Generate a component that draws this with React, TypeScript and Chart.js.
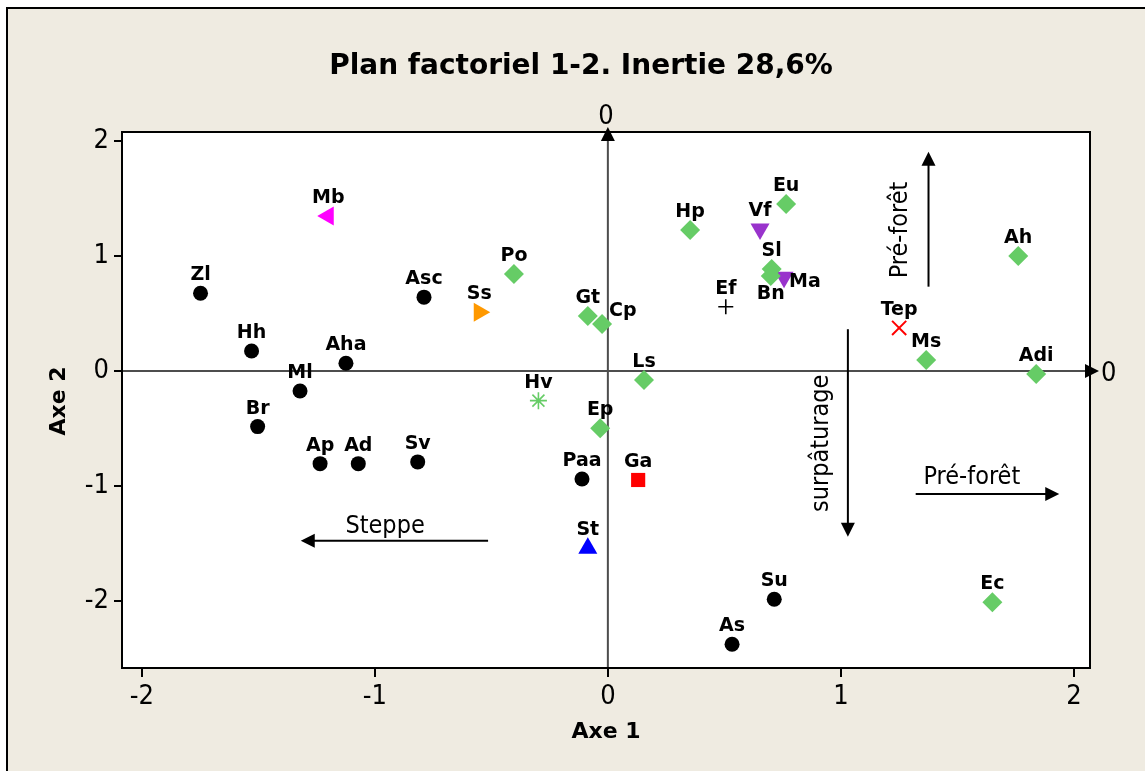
import React, { useEffect, useRef } from "react";
import { Chart, registerables } from "chart.js";

Chart.register(...registerables);

const W = 1145;
const H = 771;

// ---- data (Axe 1 / Axe 2 coordinates) ----
const names = ["Zl", "Hh", "Aha", "Ml", "Br", "Ap", "Ad", "Sv", "Asc", "Paa", "Su", "As",
  "Po", "Gt", "Cp", "Ls", "Ep", "Hp", "Eu", "Sl", "Bn", "Ms", "Adi", "Ah", "Ec",
  "Mb", "Ss", "Hv", "Ga", "St", "Vf", "Ma", "Ef", "Tep"];
const axe1 = [-1.748, -1.529, -1.124, -1.321, -1.503, -1.235, -1.071, -0.816, -0.789, -0.111, 0.714, 0.533,
  -0.403, -0.086, -0.025, 0.155, -0.033, 0.353, 0.765, 0.703, 0.699, 1.366, 1.838, 1.761, 1.650,
  -1.200, -0.552, -0.298, 0.130, -0.086, 0.653, 0.756, 0.506, 1.250];
const axe2 = [0.676, 0.174, 0.067, -0.174, -0.484, -0.806, -0.806, -0.791, 0.642, -0.939, -1.985, -2.377,
  0.843, 0.478, 0.409, -0.078, -0.498, 1.226, 1.452, 0.887, 0.826, 0.096, -0.026, 1.000, -2.011,
  1.348, 0.510, -0.258, -0.948, -1.542, 1.235, 0.815, 0.559, 0.374];
const groups = ["G1", "G1", "G1", "G1", "G1", "G1", "G1", "G1", "G1", "G1", "G1", "G1",
  "G2", "G2", "G2", "G2", "G2", "G2", "G2", "G2", "G2", "G2", "G2", "G2", "G2",
  "G3", "G4", "G5", "G6", "G7", "G8", "G8", "G9", "G10"];

const xTicks = [-2, -1, 0, 1, 2];
const yTicks = [-2, -1, 0, 1, 2];
const xMin = -2.085, xMax = 2.069;
const yMin = -2.583, yMax = 2.078;

const titleText = "Plan factoriel 1-2. Inertie 28,6%";
const xTitle = "Axe 1";
const yTitle = "Axe 2";

// annotation arrows (data units)
const noteTexts = ["Steppe", "surpâturage", "Pré-forêt", "Pré-forêt"];
const noteX = [-0.956, 0.945, 1.562, 1.284];
const noteY = [-1.411, -0.629, -0.985, 1.226];
const noteRot = [0, -90, 0, -90];
const arrowX1 = [-0.514, 1.030, 1.321, 1.376];
const arrowY1 = [-1.476, 0.363, -1.070, 0.733];
const arrowX2 = [-1.318, 1.030, 1.937, 1.376];
const arrowY2 = [-1.476, -1.441, -1.070, 1.907];

// ---- styles ----
const BG = "#efebe1";
const GREEN = "#66cc66";
const REG = "'DejaVu Sans Condensed', 'DejaVu Sans', sans-serif";
const BOLD = "'DejaVu Sans', sans-serif";

const groupStyle: Record<string, any> = {
  G1: { pointStyle: "circle", radius: 7.5, bg: "#000000", border: "#000000", bw: 0 },
  G2: { pointStyle: "rectRot", radius: 10, bg: GREEN, border: GREEN, bw: 0 },
  G3: { pointStyle: "triangle", rotation: 270, radius: 11, bg: "#ff00ff", border: "#ff00ff", bw: 0 },
  G4: { pointStyle: "triangle", rotation: 90, radius: 11, bg: "#ff9900", border: "#ff9900", bw: 0 },
  G5: { pointStyle: "star", radius: 8.5, bg: GREEN, border: GREEN, bw: 1.6 },
  G6: { pointStyle: "rect", radius: 10, bg: "#ff0000", border: "#ff0000", bw: 0 },
  G7: { pointStyle: "triangle", radius: 11, bg: "#0000ff", border: "#0000ff", bw: 0 },
  G8: { pointStyle: "triangle", rotation: 180, radius: 11, bg: "#9933cc", border: "#9933cc", bw: 0 },
  G9: { pointStyle: "cross", radius: 7.5, bg: "#000000", border: "#000000", bw: 1.6 },
  G10: { pointStyle: "crossRot", radius: 10, bg: "#ff0000", border: "#ff0000", bw: 2 },
};

const labelPlacement: Record<string, [number, number, CanvasTextAlign]> = {
  Cp: [7, -13, "left"],
  Ma: [5, 5, "left"],
  Bn: [0, 18, "center"],
};
const defaultPlacement: [number, number, CanvasTextAlign] = [0, -18, "center"];

function arrowHead(ctx: CanvasRenderingContext2D, tx: number, ty: number, dx: number, dy: number, len: number, half: number) {
  const bx = tx - dx * len, by = ty - dy * len;
  const px = -dy, py = dx;
  ctx.beginPath();
  ctx.moveTo(tx, ty);
  ctx.lineTo(bx + px * half, by + py * half);
  ctx.lineTo(bx - px * half, by - py * half);
  ctx.closePath();
  ctx.fill();
}

const decoPlugin = {
  id: "deco",
  beforeDraw(chart: any) {
    const { ctx, chartArea: a } = chart;
    ctx.save();
    ctx.fillStyle = "#ffffff";
    ctx.fillRect(0, 0, W, H);
    ctx.fillStyle = BG;
    ctx.fillRect(7, 8, W - 7, H - 8);
    ctx.strokeStyle = "#000";
    ctx.lineWidth = 2;
    ctx.beginPath();
    ctx.moveTo(7, H);
    ctx.lineTo(7, 8);
    ctx.lineTo(W, 8);
    ctx.stroke();
    ctx.fillStyle = "#ffffff";
    ctx.fillRect(a.left, a.top, a.right - a.left, a.bottom - a.top);
    ctx.restore();
  },
  beforeDatasetsDraw(chart: any) {
    const { ctx, chartArea: a, scales } = chart;
    const xs = scales.x, ys = scales.y;
    const x0 = xs.getPixelForValue(0);
    const y0 = ys.getPixelForValue(0);
    ctx.save();
    ctx.strokeStyle = "#4d4d4d";
    ctx.lineWidth = 2;
    ctx.beginPath();
    ctx.moveTo(x0, a.bottom);
    ctx.lineTo(x0, a.top + 8);
    ctx.moveTo(a.left, y0);
    ctx.lineTo(a.right - 4, y0);
    ctx.stroke();
    ctx.fillStyle = "#000";
    arrowHead(ctx, x0, a.top - 5, 0, -1, 14, 7);
    arrowHead(ctx, a.right + 9, y0, 1, 0, 14, 7);
    ctx.strokeStyle = "#000";
    ctx.lineWidth = 2;
    for (let i = 0; i < noteTexts.length; i++) {
      const p1x = xs.getPixelForValue(arrowX1[i]);
      const p1y = ys.getPixelForValue(arrowY1[i]);
      const p2x = xs.getPixelForValue(arrowX2[i]);
      const p2y = ys.getPixelForValue(arrowY2[i]);
      const L = Math.hypot(p2x - p1x, p2y - p1y);
      const dx = (p2x - p1x) / L, dy = (p2y - p1y) / L;
      ctx.beginPath();
      ctx.moveTo(p1x, p1y);
      ctx.lineTo(p2x - dx * 10, p2y - dy * 10);
      ctx.stroke();
      arrowHead(ctx, p2x, p2y, dx, dy, 14, 7);
    }
    ctx.restore();
  },
  afterDatasetsDraw(chart: any) {
    const { ctx, chartArea: a, scales } = chart;
    const xs = scales.x, ys = scales.y;
    ctx.save();
    ctx.strokeStyle = "#000";
    ctx.lineWidth = 2;
    ctx.strokeRect(a.left, a.top, a.right - a.left, a.bottom - a.top);
    ctx.fillStyle = "#000";
    ctx.font = `bold 19px ${BOLD}`;
    ctx.textBaseline = "middle";
    for (let i = 0; i < names.length; i++) {
      const [dx, dy, align] = labelPlacement[names[i]] || defaultPlacement;
      ctx.textAlign = align;
      ctx.fillText(names[i], xs.getPixelForValue(axe1[i]) + dx, ys.getPixelForValue(axe2[i]) + dy);
    }
    ctx.font = `25px ${REG}`;
    ctx.textBaseline = "alphabetic";
    ctx.textAlign = "center";
    for (let i = 0; i < noteTexts.length; i++) {
      const px = xs.getPixelForValue(noteX[i]);
      const py = ys.getPixelForValue(noteY[i]);
      ctx.save();
      ctx.translate(px, py);
      ctx.rotate((noteRot[i] * Math.PI) / 180);
      ctx.fillText(noteTexts[i], 0, 0);
      ctx.restore();
    }
    const x0 = xs.getPixelForValue(0);
    const y0 = ys.getPixelForValue(0);
    ctx.font = `27px ${REG}`;
    ctx.textAlign = "center";
    ctx.fillText("0", x0 - 2, a.top - 8);
    ctx.textAlign = "left";
    ctx.fillText("0", a.right + 11, y0 + 10);
    ctx.font = `bold 28px ${BOLD}`;
    ctx.textAlign = "center";
    ctx.fillText(titleText, 581, 74);
    ctx.font = `bold 22px ${BOLD}`;
    ctx.fillText(xTitle, (a.left + a.right) / 2, 738);
    ctx.save();
    ctx.translate(65, 401);
    ctx.rotate(-Math.PI / 2);
    ctx.fillText(yTitle, 0, 0);
    ctx.restore();
    ctx.restore();
  },
};

export default function App() {
  const ref = useRef<HTMLCanvasElement | null>(null);
  useEffect(() => {
    if (!ref.current) return;
    const uniq = Array.from(new Set(groups));
    const datasets = uniq.map((g) => {
      const s = groupStyle[g];
      const data = names
        .map((n, i) => ({ x: axe1[i], y: axe2[i], g: groups[i] }))
        .filter((p) => p.g === g)
        .map((p) => ({ x: p.x, y: p.y }));
      return {
        label: g,
        data,
        pointStyle: s.pointStyle,
        rotation: s.rotation || 0,
        pointRadius: s.radius,
        pointHoverRadius: s.radius,
        backgroundColor: s.bg,
        borderColor: s.border,
        borderWidth: s.bw,
        pointBorderWidth: s.bw,
      };
    });
    const tickFont = { family: REG, size: 27 };
    const chart = new Chart(ref.current, {
      type: "scatter",
      data: { datasets: datasets as any },
      options: {
        responsive: false,
        animation: false,
        layout: { padding: { top: 132, right: 55, left: 0, bottom: 0 } },
        plugins: {
          legend: { display: false },
          tooltip: { enabled: false },
          title: { display: false },
        },
        scales: {
          x: {
            type: "linear",
            min: xMin,
            max: xMax,
            afterBuildTicks: (s: any) => {
              s.ticks = xTicks.map((v) => ({ value: v }));
            },
            afterFit: (s: any) => {
              s.height = 103;
            },
            grid: { drawOnChartArea: false, drawTicks: true, tickLength: 9, color: "#000", lineWidth: 2 },
            border: { display: false },
            ticks: { font: tickFont, color: "#000", padding: 4, maxRotation: 0, autoSkip: false },
          },
          y: {
            type: "linear",
            min: yMin,
            max: yMax,
            afterBuildTicks: (s: any) => {
              s.ticks = yTicks.map((v) => ({ value: v }));
            },
            afterFit: (s: any) => {
              s.width = 122;
            },
            grid: { drawOnChartArea: false, drawTicks: true, tickLength: 8, color: "#000", lineWidth: 2 },
            border: { display: false },
            ticks: { font: tickFont, color: "#000", padding: 5, autoSkip: false },
          },
        },
      },
      plugins: [decoPlugin],
    });
    return () => chart.destroy();
  }, []);
  return (
    <div style={{ position: "absolute", left: 0, top: 0, width: W, height: H }}>
      <canvas ref={ref} width={W} height={H} style={{ display: "block", width: W, height: H }} />
    </div>
  );
}
